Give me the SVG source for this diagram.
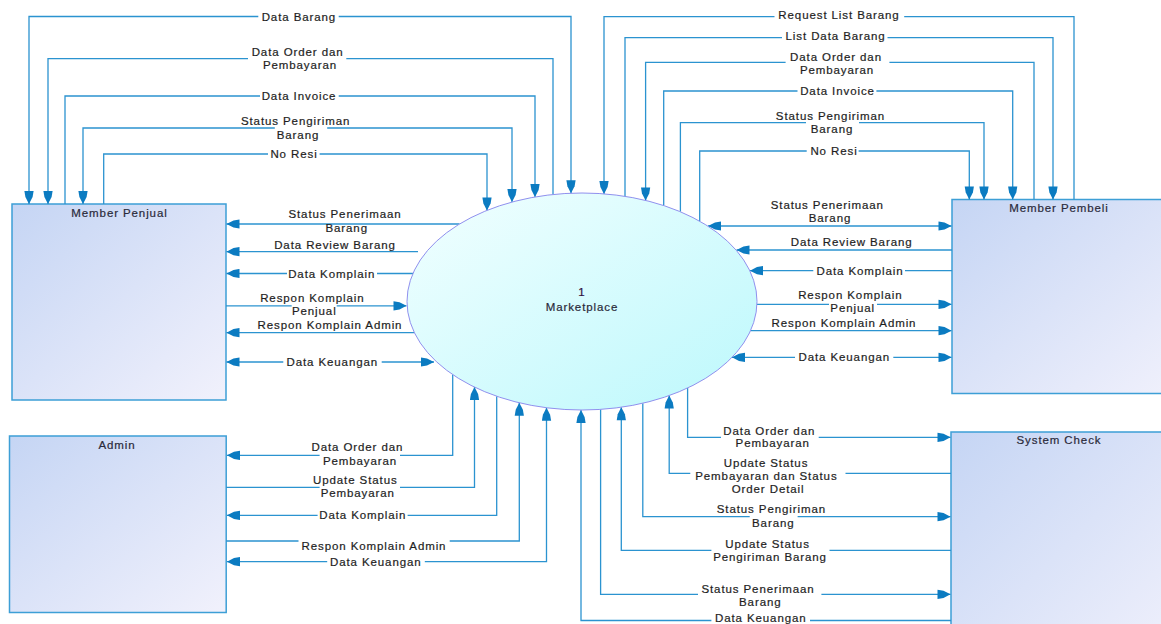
<svg xmlns="http://www.w3.org/2000/svg" width="1161" height="624" viewBox="0 0 1161 624">
<style>
.lbl{font-family:"Liberation Sans",Arial,sans-serif;font-size:11.5px;letter-spacing:0.9px;fill:#1e1e1e;stroke:#1e1e1e;stroke-width:0.2px;text-anchor:middle}
.ttl{font-family:"Liberation Sans",Arial,sans-serif;font-size:11.5px;letter-spacing:0.9px;fill:#2a2a3a;stroke:#2a2a3a;stroke-width:0.2px;text-anchor:middle}
.box{fill:url(#gBox);stroke:#3d9fd6;stroke-width:1.5}
.gap{fill:#ffffff;stroke:none}
</style>
<defs>
<linearGradient id="gBox" x1="0" y1="0" x2="1" y2="1">
<stop offset="0" stop-color="#c5d5f4"/>
<stop offset="1" stop-color="#f1f1fc"/>
</linearGradient>
<linearGradient id="gEll" x1="0" y1="0" x2="1" y2="1">
<stop offset="0" stop-color="#f2ffff"/>
<stop offset="1" stop-color="#bcf8fc"/>
</linearGradient>
<marker id="arr" viewBox="-14 -5 15 10" refX="0" refY="0" markerWidth="15" markerHeight="10" markerUnits="userSpaceOnUse" orient="auto-start-reverse">
<path d="M0,0 L-7,-3.6 L-13,-4.6 L-13,4.6 L-7,3.6 Z" fill="#0b7bc1"/>
</marker>
</defs>
<rect width="1161" height="624" fill="#ffffff"/>

<g id="node-member-penjual">
<rect class="box" x="12" y="204" width="214" height="196"/>
<text class="ttl" x="119.5" y="216.7">Member Penjual</text>
</g>
<g id="node-member-pembeli">
<rect class="box" x="952" y="199.5" width="230" height="194"/>
<text class="ttl" x="1059" y="211.7">Member Pembeli</text>
</g>
<g id="node-admin">
<rect class="box" x="9.5" y="436" width="216.7" height="176.5"/>
<text class="ttl" x="117" y="448.7">Admin</text>
</g>
<g id="node-system-check">
<rect class="box" x="951" y="432" width="230" height="230"/>
<text class="ttl" x="1059" y="444">System Check</text>
</g>

<g id="connectors" fill="none" stroke="#2b93d0" stroke-width="1.3">
<path d="M29,204 V16.5 H571 V193.2" marker-start="url(#arr)" marker-end="url(#arr)"/>
<path d="M48,204 V58.7 H553 V194.5" marker-start="url(#arr)"/>
<path d="M65,204 V96 H535 V197" marker-end="url(#arr)"/>
<path d="M83,204 V128 H512 V202.1" marker-start="url(#arr)" marker-end="url(#arr)"/>
<path d="M103.7,204 V154 H487 V210.4" marker-end="url(#arr)"/>

<path d="M1074,199.5 V16.7 H604 V193.9" marker-end="url(#arr)"/>
<path d="M625,196.3 V37.7 H1053 V199.5" marker-end="url(#arr)"/>
<path d="M1034,199.5 V62.3 H645.6 V200.4" marker-end="url(#arr)"/>
<path d="M663.7,205.6 V91 H1012.7 V199.5" marker-end="url(#arr)"/>
<path d="M680.4,211.8 V122.7 H984 V199.5" marker-end="url(#arr)"/>
<path d="M699.7,221.2 V151 H969.3 V199.5" marker-end="url(#arr)"/>

<path d="M459.5,224 H226.5" marker-end="url(#arr)"/>
<path d="M418,251.7 H226.5" marker-end="url(#arr)"/>
<path d="M413,273.5 H226.5" marker-end="url(#arr)"/>
<path d="M226,305.8 H406.5" marker-end="url(#arr)"/>
<path d="M414.4,332.7 H226.5" marker-end="url(#arr)"/>
<path d="M226.5,362 H434" marker-start="url(#arr)" marker-end="url(#arr)"/>

<path d="M708,226 H951.5" marker-start="url(#arr)" marker-end="url(#arr)"/>
<path d="M952,250 H736.5" marker-end="url(#arr)"/>
<path d="M952,270.7 H750" marker-end="url(#arr)"/>
<path d="M757,304.3 H951.5" marker-end="url(#arr)"/>
<path d="M750.5,330.7 H951.5" marker-end="url(#arr)"/>
<path d="M732,357.3 H951.5" marker-start="url(#arr)" marker-end="url(#arr)"/>

<path d="M452.7,374.6 V455.3 H227" marker-end="url(#arr)"/>
<path d="M226.2,487.3 H474.5 V387.1" marker-end="url(#arr)"/>
<path d="M496.7,396.2 V515.3 H227" marker-end="url(#arr)"/>
<path d="M226.2,541 H519.3 V402.8" marker-end="url(#arr)"/>
<path d="M227,561.7 H546.5 V407.7" marker-start="url(#arr)" marker-end="url(#arr)"/>

<path d="M687.6,388 V437.3 H950.5" marker-end="url(#arr)"/>
<path d="M951,473.3 H669.2 V395.6" marker-end="url(#arr)"/>
<path d="M642.8,403.2 V516.7 H950.5" marker-end="url(#arr)"/>
<path d="M951,550.3 H621.3 V407.2" marker-end="url(#arr)"/>
<path d="M600.6,409.4 V594.3 H950.5" marker-end="url(#arr)"/>
<path d="M951,620.5 H581 V410" marker-end="url(#arr)"/>

<g class="gap">
<rect x="258.3" y="14" width="80.4" height="5"/>
<rect x="248" y="56.2" width="98.3" height="5"/>
<rect x="260" y="93.5" width="78.7" height="5"/>
<rect x="274.8" y="125.5" width="52.4" height="5"/>
<rect x="268" y="151.5" width="51.6" height="5"/>
<rect x="774.5" y="14.2" width="129.7" height="5"/>
<rect x="782" y="35.2" width="105.5" height="5"/>
<rect x="785.6" y="59.8" width="103.8" height="5"/>
<rect x="797.5" y="88.5" width="78.9" height="5"/>
<rect x="806" y="120.2" width="53" height="5"/>
<rect x="806.7" y="148.5" width="51.9" height="5"/>
<rect x="287" y="271" width="90" height="5"/>
<rect x="291.7" y="303.3" width="45" height="5"/>
<rect x="283.3" y="359.5" width="98.4" height="5"/>
<rect x="813.3" y="268.2" width="91.7" height="5"/>
<rect x="829" y="301.8" width="48" height="5"/>
<rect x="795" y="354.8" width="98.3" height="5"/>
<rect x="319.6" y="452.8" width="80.4" height="5"/>
<rect x="319.6" y="484.8" width="80.4" height="5"/>
<rect x="317.6" y="512.8" width="90" height="5"/>
<rect x="298.5" y="538.5" width="151.2" height="5"/>
<rect x="327.2" y="559.2" width="97.6" height="5"/>
<rect x="721" y="434.8" width="97.7" height="5"/>
<rect x="690.3" y="470.8" width="155.2" height="5"/>
<rect x="749.7" y="514.2" width="47.9" height="5"/>
<rect x="711.4" y="547.8" width="118.1" height="5"/>
<rect x="698" y="591.8" width="123.4" height="5"/>
<rect x="711.4" y="618" width="98.6" height="5"/>
</g>
</g>

<g id="node-marketplace">
<ellipse cx="582" cy="301.5" rx="175" ry="108.5" fill="url(#gEll)" stroke="#9090ee" stroke-width="1"/>
<text class="ttl" x="582" y="295.7" style="fill:#301040;stroke:#301040">1</text>
<text class="ttl" x="582" y="310.7">Marketplace</text>
</g>

<g id="labels">
<text class="lbl" x="298.9" y="20.5">Data Barang</text>
<text class="lbl" x="297.6" y="55.7">Data Order dan</text>
<text class="lbl" x="300" y="69">Pembayaran</text>
<text class="lbl" x="299" y="100">Data Invoice</text>
<text class="lbl" x="295.6" y="125">Status Pengiriman</text>
<text class="lbl" x="298" y="138.7">Barang</text>
<text class="lbl" x="294" y="158">No Resi</text>

<text class="lbl" x="839" y="19">Request List Barang</text>
<text class="lbl" x="835.6" y="40">List Data Barang</text>
<text class="lbl" x="836" y="60.7">Data Order dan</text>
<text class="lbl" x="837" y="74">Pembayaran</text>
<text class="lbl" x="837.5" y="95">Data Invoice</text>
<text class="lbl" x="830.5" y="119.7">Status Pengiriman</text>
<text class="lbl" x="832" y="133">Barang</text>
<text class="lbl" x="834" y="155">No Resi</text>

<text class="lbl" x="345" y="218.3">Status Penerimaan</text>
<text class="lbl" x="346.7" y="232.3">Barang</text>
<text class="lbl" x="335" y="249">Data Review Barang</text>
<text class="lbl" x="331.7" y="277.5">Data Komplain</text>
<text class="lbl" x="312.3" y="302.3">Respon Komplain</text>
<text class="lbl" x="314.3" y="314.5">Penjual</text>
<text class="lbl" x="330" y="329">Respon Komplain Admin</text>
<text class="lbl" x="332.3" y="366">Data Keuangan</text>

<text class="lbl" x="827.3" y="209">Status Penerimaan</text>
<text class="lbl" x="830" y="222.3">Barang</text>
<text class="lbl" x="851.7" y="246.3">Data Review Barang</text>
<text class="lbl" x="860" y="274.7">Data Komplain</text>
<text class="lbl" x="850.3" y="299">Respon Komplain</text>
<text class="lbl" x="852.7" y="312.3">Penjual</text>
<text class="lbl" x="844" y="327.3">Respon Komplain Admin</text>
<text class="lbl" x="844.3" y="361.3">Data Keuangan</text>

<text class="lbl" x="357.4" y="451.3">Data Order dan</text>
<text class="lbl" x="360" y="464.7">Pembayaran</text>
<text class="lbl" x="355.3" y="484">Update Status</text>
<text class="lbl" x="357.8" y="497.3">Pembayaran</text>
<text class="lbl" x="362.8" y="519.3">Data Komplain</text>
<text class="lbl" x="374" y="549.7">Respon Komplain Admin</text>
<text class="lbl" x="375.8" y="565.7">Data Keuangan</text>

<text class="lbl" x="769.3" y="434.7">Data Order dan</text>
<text class="lbl" x="772.7" y="447.3">Pembayaran</text>
<text class="lbl" x="766" y="466.7">Update Status</text>
<text class="lbl" x="766.4" y="480">Pembayaran dan Status</text>
<text class="lbl" x="768.1" y="493">Order Detail</text>
<text class="lbl" x="771.4" y="513.3">Status Pengiriman</text>
<text class="lbl" x="773.3" y="526.7">Barang</text>
<text class="lbl" x="767.5" y="547.7">Update Status</text>
<text class="lbl" x="770" y="560.7">Pengiriman Barang</text>
<text class="lbl" x="758" y="593.3">Status Penerimaan</text>
<text class="lbl" x="760.3" y="606.3">Barang</text>
<text class="lbl" x="760.8" y="621.5">Data Keuangan</text>
</g>
</svg>
